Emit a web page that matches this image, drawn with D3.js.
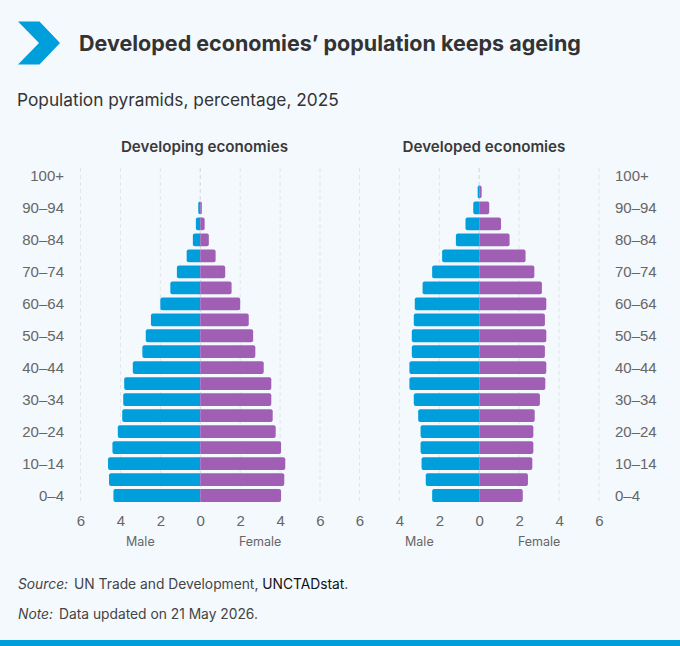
<!doctype html>
<html>
<head>
<meta charset="utf-8">
<script src="https://cdn.jsdelivr.net/npm/d3@7"></script>
<style>
  html, body { margin: 0; padding: 0; background: #f4f9fe; }
  svg { display: block; font-family: Inter, "Noto Sans", sans-serif; }
  .tick text { fill: #666; font-size: 15px; }
  .domain { display: none; }
</style>
</head>
<body>
<svg id="chart" width="680" height="646"></svg>
<script>
  // Youngest group last, so the first row is the top of the pyramid
  var ageGroups = ['100+', '95–99', '90–94', '85–89', '80–84', '75–79', '70–74', '65–69', '60–64', '55–59',
    '50–54', '45–49', '40–44', '35–39', '30–34', '25–29', '20–24', '15–19', '10–14', '5–9', '0–4'];
  var ageLabels = ['100+', '90–94', '80–84', '70–74', '60–64', '50–54', '40–44', '30–34', '20–24', '10–14', '0–4'];
  var xTicks = [-6, -4, -2, 0, 2, 4, 6];

  var developingMale = [0, 0, 0.1, 0.22, 0.37, 0.68, 1.17, 1.5, 2.0, 2.47, 2.73, 2.9, 3.38, 3.81, 3.86, 3.91, 4.13, 4.4, 4.62, 4.57, 4.35];
  var developingFemale = [0, 0, 0.08, 0.22, 0.43, 0.77, 1.25, 1.57, 2.0, 2.43, 2.65, 2.76, 3.18, 3.56, 3.56, 3.63, 3.78, 4.05, 4.26, 4.21, 4.05];
  var developedMale = [0, 0.08, 0.3, 0.69, 1.17, 1.86, 2.36, 2.84, 3.23, 3.28, 3.38, 3.38, 3.5, 3.5, 3.28, 3.06, 2.94, 2.94, 2.89, 2.68, 2.36];
  var developedFemale = [0, 0.12, 0.5, 1.09, 1.52, 2.32, 2.76, 3.14, 3.36, 3.29, 3.36, 3.29, 3.36, 3.31, 3.04, 2.78, 2.71, 2.71, 2.66, 2.44, 2.18];

  var BLUE = '#009edb', PURPLE = '#a05fb4', TEXT = '#333', MUTED = '#666';

  var svg = d3.select('#chart');

  // header
  svg.append('path').attr('d', 'M18,21.5H39.5L60,43L39.5,64.5H18L39,43Z').attr('fill', BLUE);
  svg.append('text').attr('x', 79).attr('y', 51).attr('fill', TEXT)
    .style('font-size', '21.5px').style('font-weight', 700)
    .text('Developed economies’ population keeps ageing');
  svg.append('text').attr('x', 17).attr('y', 106).attr('fill', TEXT)
    .style('font-size', '17.3px')
    .text('Population pyramids, percentage, 2025');

  var y = d3.scaleBand().domain(ageGroups).range([168, 503.5]).paddingInner(0.2).paddingOuter(0.1);

  // bar growing out of the centre line, only the outer corners rounded
  function barPath(x0, x1, top, h, r) {
    var s = x1 < x0 ? -1 : 1;
    r = Math.min(r, Math.abs(x1 - x0));
    var sweep = s > 0 ? 1 : 0;
    return 'M' + x0 + ',' + top + 'L' + (x1 - s * r) + ',' + top +
      'A' + r + ',' + r + ' 0 0 ' + sweep + ' ' + x1 + ',' + (top + r) +
      'L' + x1 + ',' + (top + h - r) +
      'A' + r + ',' + r + ' 0 0 ' + sweep + ' ' + (x1 - s * r) + ',' + (top + h) +
      'L' + x0 + ',' + (top + h) + 'Z';
  }

  function pyramid(opts) {
    var x = d3.scaleLinear().domain([-6, 6]).range(opts.range);
    var g = svg.append('g');

    g.append('text').attr('x', opts.titleX).attr('y', 152).attr('text-anchor', 'middle')
      .attr('fill', '#3a3a3a').style('font-size', '15.2px').style('font-weight', 600)
      .text(opts.title);

    // grid
    g.append('g').selectAll('line').data(xTicks).enter().append('line')
      .attr('x1', function (d) { return x(d); })
      .attr('x2', function (d) { return x(d); })
      .attr('y1', 168).attr('y2', 503)
      .attr('stroke', function (d) { return d === 0 ? '#d4d6da' : '#e2e4e8'; })
      .attr('stroke-dasharray', '4,3');

    var rows = ageGroups.map(function (age, i) {
      return { age: age, male: opts.male[i], female: opts.female[i] };
    });

    g.append('g').selectAll('path').data(rows.filter(function (d) { return d.male > 0; })).enter().append('path')
      .attr('fill', BLUE)
      .attr('d', function (d) { return barPath(x(0), x(-d.male), y(d.age), y.bandwidth(), 2); });

    g.append('g').selectAll('path').data(rows.filter(function (d) { return d.female > 0; })).enter().append('path')
      .attr('fill', PURPLE)
      .attr('d', function (d) { return barPath(x(0), x(d.female), y(d.age), y.bandwidth(), 2); });

    // axes
    var xAxis = d3.axisBottom(x).tickValues(xTicks).tickSize(0).tickPadding(0)
      .tickFormat(function (d) { return Math.abs(d); });
    g.append('g').attr('transform', 'translate(0,515)').call(xAxis);

    var yAxis = (opts.axisRight ? d3.axisRight(y) : d3.axisLeft(y))
      .tickValues(ageLabels).tickSize(0).tickPadding(0);
    g.append('g').attr('transform', 'translate(' + opts.axisX + ',0.5)').call(yAxis);

    g.append('text').attr('x', x(-3)).attr('y', 546).attr('text-anchor', 'middle')
      .attr('fill', MUTED).style('font-size', '12.5px').text('Male');
    g.append('text').attr('x', x(3)).attr('y', 546).attr('text-anchor', 'middle')
      .attr('fill', MUTED).style('font-size', '12.5px').text('Female');
  }

  pyramid({ title: 'Developing economies', titleX: 204.5, male: developingMale, female: developingFemale,
    range: [80.5, 320], axisX: 64, axisRight: false });
  pyramid({ title: 'Developed economies', titleX: 484, male: developedMale, female: developedFemale,
    range: [359.5, 599], axisX: 615, axisRight: true });

  // footer
  var source = svg.append('text').attr('x', 18).attr('y', 589).attr('fill', '#444').style('font-size', '13.8px');
  source.append('tspan').style('font-style', 'italic').text('Source:');
  source.append('tspan').attr('dx', 6).text('UN Trade and Development, ');
  source.append('tspan').attr('fill', '#111').text('UNCTADstat');
  source.append('tspan').text('.');

  var note = svg.append('text').attr('x', 18).attr('y', 619).attr('fill', '#444').style('font-size', '13.8px');
  note.append('tspan').style('font-style', 'italic').text('Note:');
  note.append('tspan').attr('dx', 6).text('Data updated on 21 May 2026.');

  svg.append('rect').attr('x', 0).attr('y', 640).attr('width', 680).attr('height', 6).attr('fill', BLUE);
</script>
</body>
</html>
